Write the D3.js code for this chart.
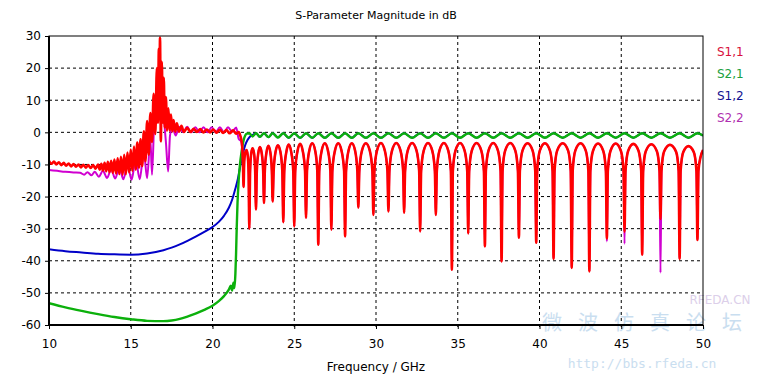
<!DOCTYPE html>
<html>
<head>
<meta charset="utf-8">
<script src="https://cdn.jsdelivr.net/npm/d3@7"></script>
<style>
  body { margin: 0; background: #fff; }
  svg { display: block; }
</style>
</head>
<body>
<div id="chart"></div>
<script>
// ---- data (frequency in GHz, magnitude in dB) ----

const xTicks = [10, 15, 20, 25, 30, 35, 40, 45, 50];
const yTicks = [30, 20, 10, 0, -10, -20, -30, -40, -50, -60];
const seriesNames = ["S1,1", "S2,1", "S1,2", "S2,2"];

// S1,1 stop band: dense ripple drawn as a zigzag between upper and lower edges
const s11Stop = [
  [10.00, -8.9], [10.15, -9.8], [10.30, -9.1], [10.45, -10.0], [10.60, -9.3], [10.75, -10.2],
  [10.90, -9.5], [11.05, -10.4], [11.20, -9.7], [11.35, -10.6], [11.50, -9.9], [11.65, -10.7],
  [11.80, -10.0], [11.95, -10.9], [12.10, -10.1], [12.25, -11.0], [12.40, -10.2], [12.55, -11.1],
  [12.70, -10.2], [12.85, -11.3],
  [13.0, -10.0], [13.1, -11.6], [13.2, -9.8], [13.3, -11.9], [13.4, -9.5], [13.5, -12.1],
  [13.6, -9.2], [13.7, -12.4], [13.8, -8.9], [13.9, -12.6], [14.0, -8.5], [14.1, -12.8],
  [14.2, -8.1], [14.3, -13.0], [14.4, -7.6], [14.5, -13.2], [14.6, -7.0], [14.7, -13.0],
  [14.8, -6.3], [14.9, -12.5], [15.0, -5.4], [15.1, -12.0], [15.2, -4.4], [15.3, -11.6],
  [15.4, -3.2], [15.5, -11.0], [15.6, -2.2], [15.7, -10.5], [15.8, 0.3], [15.9, -9.0],
  [16.0, 3.5], [16.1, -7.0], [16.2, 6.0], [16.3, -3.0], [16.4, 12.0], [16.5, -0.5],
  [16.6, 20.0], [16.66, 3.0], [16.72, 26.0], [16.75, 6.0], [16.79, 29.5], [16.84, -2.8],
  [16.9, 22.0], [16.96, 3.0], [17.02, 17.0], [17.08, 1.5], [17.15, 11.0], [17.22, 0.5],
  [17.3, 7.5], [17.38, 0.5], [17.46, 5.5], [17.54, 0.3], [17.62, 3.8], [17.72, 0.2],
  [17.82, 2.8], [17.95, 0.2], [18.10, 2.0], [18.25, 0.1], [18.45, 1.4], [18.65, 0.1],
  [18.85, 1.1], [19.05, 0.1], [19.25, 1.0], [19.45, 0.0], [19.65, 0.9], [19.85, 0.0],
  [20.05, 0.9], [20.25, -0.1], [20.45, 0.8], [20.65, -0.2], [20.85, 0.7], [21.05, -0.3],
  [21.25, 0.6], [21.45, -0.4], [21.60, 0.1]
];

// S1,1 pass band: one line per lobe, spike-shaped nulls between rounded tops
const s11Pass = [
  [21.70, -1.0], [21.80, -3.5], [21.86, -9], [21.90, -17], [21.94, -9], [22.02, -6], [22.08, -5.5], [22.15, -7], [22.21, -13], [22.25, -30],
  [22.30, -12], [22.37, -6.5], [22.45, -5.0], [22.54, -6.5], [22.61, -12], [22.66, -24],
  [22.71, -12], [22.80, -6.5], [22.90, -4.6], [23.01, -6.5], [23.10, -12], [23.15, -22],
  [23.20, -12], [23.30, -6.3], [23.42, -4.2], [23.54, -6.3], [23.63, -12], [23.68, -21.5],
  [23.74, -12], [23.86, -6.0], [24.00, -4.0], [24.15, -6.0], [24.27, -12], [24.33, -28],
  [24.39, -12], [24.52, -6.0], [24.66, -3.8], [24.81, -6.0], [24.94, -12], [25.00, -29.3],
  [25.06, -12], [25.20, -5.8], [25.36, -3.6], [25.52, -5.8], [25.66, -12], [25.72, -26.6],
  [25.78, -12], [25.92, -5.7], [26.10, -3.4], [26.28, -5.7], [26.41, -12], [26.47, -35],
  [26.53, -12], [26.68, -5.7], [26.87, -3.4], [27.06, -5.7], [27.21, -12], [27.27, -30.3],
  [27.33, -12], [27.49, -5.7], [27.69, -3.4], [27.89, -5.7], [28.05, -12], [28.11, -32.4],
  [28.17, -12], [28.32, -5.7], [28.52, -3.4], [28.72, -5.7], [28.86, -12], [28.92, -23.4],
  [28.98, -12], [29.14, -5.7], [29.38, -3.4], [29.62, -5.7], [29.78, -12], [29.84, -25.7],
  [29.90, -12], [30.06, -5.7], [30.30, -3.3], [30.54, -5.7], [30.70, -12], [30.76, -24.6],
  [30.82, -12], [30.98, -5.7], [31.24, -3.3], [31.50, -5.7], [31.66, -12], [31.72, -25],
  [31.78, -12], [31.94, -5.7], [32.21, -3.3], [32.48, -5.7], [32.64, -12], [32.70, -30.9],
  [32.76, -12], [32.92, -5.7], [33.18, -3.3], [33.44, -5.7], [33.60, -12], [33.66, -25.7],
  [33.72, -12], [33.88, -5.7], [34.15, -3.3], [34.42, -5.7], [34.58, -12], [34.64, -42.8],
  [34.70, -12], [34.86, -5.7], [35.14, -3.3], [35.42, -5.7], [35.58, -12], [35.64, -31.5],
  [35.70, -12], [35.86, -5.7], [36.15, -3.3], [36.44, -5.7], [36.60, -12], [36.66, -35.5],
  [36.72, -12], [36.88, -5.7], [37.17, -3.3], [37.46, -5.7], [37.62, -12], [37.68, -40.2],
  [37.74, -12], [37.90, -5.7], [38.21, -3.3], [38.52, -5.7], [38.68, -12], [38.74, -32.8],
  [38.80, -12], [38.96, -5.7], [39.27, -3.4], [39.58, -5.7], [39.74, -12], [39.80, -34.4],
  [39.86, -12], [40.02, -5.7], [40.33, -3.4], [40.64, -5.7], [40.80, -12], [40.86, -39.4],
  [40.92, -12], [41.08, -5.7], [41.42, -3.4], [41.75, -5.7], [41.91, -12], [41.97, -42.2],
  [42.03, -12], [42.19, -5.7], [42.51, -3.4], [42.83, -5.7], [42.99, -12], [43.05, -43.3],
  [43.11, -12], [43.27, -5.8], [43.58, -3.5], [43.90, -5.8], [44.06, -12], [44.12, -33],
  [44.18, -12], [44.34, -5.8], [44.66, -3.5], [44.98, -5.8], [45.14, -12], [45.20, -31],
  [45.26, -12], [45.42, -5.8], [45.74, -3.6], [46.06, -5.8], [46.22, -12], [46.28, -38.1],
  [46.34, -12], [46.50, -5.9], [46.84, -3.7], [47.18, -5.9], [47.34, -12], [47.40, -27],
  [47.46, -12], [47.62, -6.0], [47.98, -3.9], [48.35, -6.0], [48.51, -12], [48.57, -39.4],
  [48.63, -12], [48.79, -6.2], [49.11, -4.3], [49.44, -6.2], [49.60, -12], [49.66, -33.5],
  [49.72, -12], [49.86, -7.5], [50.00, -5.5]
];

// S2,2 stop band (mostly hidden under S1,1, shows below it)
const s22Stop = [
  [10.0, -11.7], [10.5, -12.0], [11.0, -12.3], [11.5, -12.5], [11.9, -12.6], [12.15, -13.2],
  [12.35, -12.4], [12.6, -13.4], [12.8, -12.3], [13.05, -13.8], [13.3, -12.0], [13.55, -14.2],
  [13.8, -11.6], [14.05, -14.4], [14.3, -11.0], [14.55, -14.6], [14.8, -10.0], [15.05, -14.8],
  [15.3, -8.5], [15.55, -14.6], [15.8, -6.0], [16.0, -14.3], [16.2, -2.0], [16.3, -13.2],
  [16.45, 6.0], [16.6, 12.0], [16.78, 16.4], [16.9, 10.0], [17.05, 3.0], [17.15, -3.0],
  [17.29, -12.2], [17.4, -1.0], [17.55, 1.5], [17.75, -1.0], [17.95, 1.7], [18.2, 0.0],
  [18.45, 1.7], [18.7, 0.0], [18.95, 1.6], [19.2, 0.0], [19.45, 1.6], [19.7, 0.0],
  [19.95, 1.6], [20.2, 0.0], [20.45, 1.6], [20.7, 0.0], [20.95, 1.6], [21.2, 0.2],
  [21.45, 1.5], [21.6, -2.0], [21.75, -2.8]
];
// nulls where S2,2 goes deeper than S1,1 in the pass band
const s22DeeperNulls = [[44.12, -34.0], [45.20, -34.7], [47.40, -43.7]];

// S2,1 below cut-off, then pass-band ripple (tops sit at the S1,1 nulls)
const s21Stop = [
  [10, -53.2], [11, -54.5], [12, -55.6], [13, -56.6], [14, -57.5], [15, -58.2], [16, -58.7],
  [17, -58.8], [17.5, -58.6], [18, -58.1], [18.5, -57.3], [19, -56.4], [19.5, -55.3],
  [20, -54.0], [20.4, -52.5], [20.7, -51.0], [21.0, -49.0], [21.12, -47.8], [21.2, -49.3],
  [21.28, -46.8], [21.34, -48.5], [21.40, -44], [21.44, -38], [21.48, -30], [21.53, -22],
  [21.60, -15], [21.68, -10], [21.78, -6], [21.90, -2.5], [22.00, -1.0], [22.10, -0.4]
];
const s21Ripple = [
  [22.25, -0.3], [22.45, -1.3], [22.66, -0.3], [22.90, -1.4], [23.15, -0.3], [23.42, -1.5],
  [23.68, -0.3], [24.00, -1.6], [24.33, -0.3], [24.66, -1.7], [25.00, -0.3], [25.36, -1.7],
  [25.72, -0.3], [26.10, -1.7], [26.47, -0.3], [26.87, -1.7], [27.27, -0.3], [27.69, -1.7],
  [28.11, -0.3], [28.52, -1.7], [28.92, -0.3], [29.38, -1.7], [29.84, -0.3], [30.30, -1.7],
  [30.76, -0.3], [31.24, -1.7], [31.72, -0.3], [32.21, -1.7], [32.70, -0.3], [33.18, -1.7],
  [33.66, -0.3], [34.15, -1.7], [34.64, -0.3], [35.14, -1.7], [35.64, -0.3], [36.15, -1.7],
  [36.66, -0.3], [37.17, -1.7], [37.68, -0.3], [38.21, -1.7], [38.74, -0.3], [39.27, -1.7],
  [39.80, -0.3], [40.33, -1.7], [40.86, -0.3], [41.42, -1.7], [41.97, -0.3], [42.51, -1.7],
  [43.05, -0.3], [43.58, -1.7], [44.12, -0.3], [44.66, -1.7], [45.20, -0.3], [45.74, -1.7],
  [46.28, -0.3], [46.84, -1.7], [47.40, -0.3], [47.98, -1.7], [48.57, -0.3], [49.11, -1.7],
  [49.66, -0.3], [50.00, -1.0]
];

// S1,2 below cut-off (equals S2,1 in the pass band)
const s12Stop = [
  [10, -36.4], [11, -37.0], [12, -37.4], [13, -37.8], [14, -38.0], [15, -38.1], [16, -37.7],
  [17, -36.7], [17.5, -35.9], [18, -34.9], [18.5, -33.7], [19, -32.4], [19.5, -31.0],
  [20, -29.5], [20.4, -27.8], [20.7, -26.0], [21.0, -23.5], [21.2, -21.0], [21.4, -17.5],
  [21.55, -14.5], [21.7, -10.5], [21.85, -6.8], [22.0, -4.0], [22.15, -2.3], [22.3, -1.3],
  [22.49, -0.7]
];

// ---- chart ----

const width = 775, height = 376;
const colors = { "S1,1": "#ff0000", "S2,1": "#0cb00c", "S1,2": "#0000c8", "S2,2": "#d000d0" };
const labelColors = { "S1,1": "#d8103a", "S2,1": "#20a040", "S1,2": "#101090", "S2,2": "#b030b0" };

const x = d3.scaleLinear().domain([10, 50]).range([49, 703]);
const y = d3.scaleLinear().domain([-60, 30]).range([325, 36]);

const svg = d3.select("#chart").append("svg")
  .attr("width", width)
  .attr("height", height)
  .style("font-family", "'DejaVu Sans', Verdana, sans-serif");

// faint forum watermark behind the plot, bottom right
const wm = svg.append("g").attr("opacity", 0.55).style("pointer-events", "none");
wm.append("text")
  .attr("x", 650).attr("y", 330)
  .attr("text-anchor", "middle")
  .attr("fill", "#9ec4e4")
  .style("font-family", "'Noto Sans CJK SC', sans-serif")
  .style("font-size", "20px")
  .style("letter-spacing", "16px")
  .text("微波仿真论坛");
wm.append("text")
  .attr("x", 642).attr("y", 368)
  .attr("text-anchor", "middle")
  .attr("fill", "#9ec4e4")
  .style("font-family", "'DejaVu Sans Mono', monospace")
  .style("font-size", "13px")
  .text("http://bbs.rfeda.cn");
wm.append("text")
  .attr("x", 720).attr("y", 304)
  .attr("text-anchor", "middle")
  .attr("fill", "#c0a8d8")
  .style("font-size", "12px")
  .text("RFEDA.CN");

// dashed grid
svg.append("g")
  .selectAll("line")
  .data(xTicks.slice(1, -1))
  .join("line")
  .attr("x1", d => x(d)).attr("x2", d => x(d))
  .attr("y1", y(30)).attr("y2", y(-60) + 4)
  .attr("stroke", "#000").attr("stroke-dasharray", "3,3");

svg.append("g")
  .selectAll("line")
  .data(yTicks.slice(1, -1))
  .join("line")
  .attr("x1", x(10)).attr("x2", x(50))
  .attr("y1", d => y(d)).attr("y2", d => y(d))
  .attr("stroke", "#000").attr("stroke-dasharray", "3,3");

// axes with outside ticks
const xAxis = svg.append("g")
  .attr("transform", `translate(0,${y(-60)})`)
  .call(d3.axisBottom(x).tickValues(xTicks).tickSize(4).tickSizeOuter(0).tickFormat(d => String(d)));
const yAxis = svg.append("g")
  .attr("transform", `translate(${x(10)},0)`)
  .call(d3.axisLeft(y).tickValues(yTicks).tickSize(4).tickSizeOuter(0).tickFormat(d => String(d)));

[xAxis, yAxis].forEach(g => {
  g.select(".domain").remove();
  g.selectAll("line").attr("stroke", "#000");
  g.selectAll("text")
    .attr("fill", "#000")
    .style("font-size", "12px")
    .style("font-family", "'DejaVu Sans', Verdana, sans-serif");
});
xAxis.selectAll("text").attr("dy", "1.3em");
yAxis.selectAll("text").attr("x", -8);

// lines
const line = d3.line()
  .x(d => x(d[0]))
  .y(d => y(d[1]))
  .curve(d3.curveMonotoneX);

const s22Pass = s11Pass
  .filter(d => d[0] > 21.85)
  .map(d => {
    const deeper = s22DeeperNulls.find(n => n[0] === d[0]);
    return deeper ? [d[0], deeper[1]] : d;
  });

const series = [
  { name: "S1,2", values: s12Stop.concat(s21Ripple.filter(d => d[0] > 22.5)), w: 2 },
  { name: "S2,1", values: s21Stop.concat(s21Ripple), w: 2.4 },
  { name: "S2,2", values: s22Stop.concat(s22Pass), w: 2 },
  { name: "S1,1", values: s11Stop.concat(s11Pass), w: 2.6 }
];

svg.append("clipPath").attr("id", "plot")
  .append("rect")
  .attr("x", x(10)).attr("y", y(30))
  .attr("width", x(50) - x(10)).attr("height", y(-60) - y(30));

svg.append("g")
  .attr("clip-path", "url(#plot)")
  .selectAll("path")
  .data(series)
  .join("path")
  .attr("d", d => line(d.values))
  .attr("fill", "none")
  .attr("stroke", d => colors[d.name])
  .attr("stroke-width", d => d.w)
  .attr("stroke-linejoin", "round");

// frame
svg.append("rect")
  .attr("x", x(10)).attr("y", y(30))
  .attr("width", x(50) - x(10)).attr("height", y(-60) - y(30))
  .attr("fill", "none").attr("stroke", "#000").attr("stroke-width", 1);
svg.append("path")
  .attr("d", `M${x(10)},${y(30)}V${y(-60)}H${x(50)}`)
  .attr("fill", "none").attr("stroke", "#000").attr("stroke-width", 2);

// titles
svg.append("text")
  .attr("x", (x(10) + x(50)) / 2).attr("y", 19)
  .attr("text-anchor", "middle")
  .style("font-size", "11px")
  .text("S-Parameter Magnitude in dB");

svg.append("text")
  .attr("x", (x(10) + x(50)) / 2).attr("y", 371)
  .attr("text-anchor", "middle")
  .style("font-size", "12px")
  .text("Frequency / GHz");

// legend on the right
svg.append("g")
  .selectAll("text")
  .data(seriesNames)
  .join("text")
  .attr("x", 717)
  .attr("y", (d, i) => 52 + i * 22.3)
  .attr("dominant-baseline", "middle")
  .attr("fill", d => labelColors[d])
  .style("font-size", "12px")
  .text(d => d);
</script>
</body>
</html>
